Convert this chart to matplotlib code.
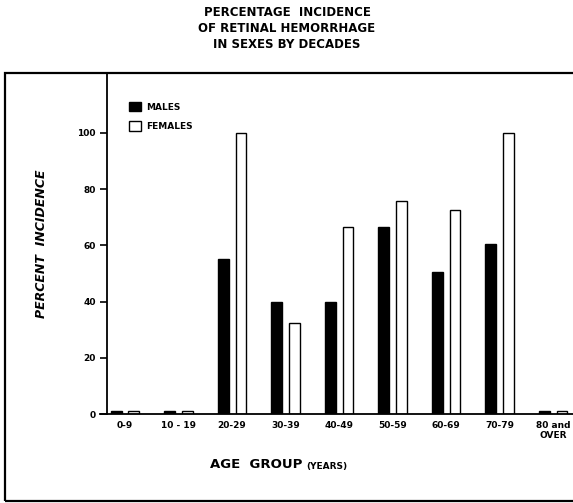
import matplotlib.pyplot as plt
from matplotlib.patches import Patch, Rectangle
import numpy as np

age_groups = ["0-9", "10 - 19", "20-29", "30-39", "40-49", "50-59",
              "60-69", "70-79", "80 and\nOVER"]
males = [1, 1, 55, 40, 40, 66.7, 50.5, 60.5, 1]
females = [1, 1, 100, 32.3, 66.7, 75.8, 72.7, 100, 1]
y_ticks = [0, 20, 40, 60, 80, 100]

W, H = 573, 503
fig = plt.figure(figsize=(W / 100, H / 100), dpi=100)
plt.rcParams['font.family'] = 'DejaVu Sans'

# axes placed in pixel terms of the reference
ax = fig.add_axes([107 / W, (H - 414) / H, (W - 107) / W, (414 - 73) / H])

x = np.arange(len(age_groups))
w = 0.2
ax.bar(x - 0.165, males, w, color='black', edgecolor='black', linewidth=1)
ax.bar(x + 0.165, females, w, color='white', edgecolor='black', linewidth=1)

ax.set_xlim(-0.336, 8.37)
ax.set_ylim(0, (414 - 73) / 2.81)

for s in ['top', 'right']:
    ax.spines[s].set_visible(False)
ax.spines['left'].set_linewidth(1.3)
ax.spines['bottom'].set_linewidth(1.3)
ax.spines['bottom'].set_bounds(-0.47, 8.37)
ax.spines['bottom'].set_clip_on(False)

ax.set_yticks(y_ticks)
ax.set_yticklabels([str(v) for v in y_ticks], fontsize=6.5, fontweight='bold')
ax.tick_params(axis='y', length=5, width=1.2, pad=3)
ax.set_xticks(x)
ax.set_xticklabels(age_groups, fontsize=6.5, fontweight='bold', linespacing=1.1,
                   va='top')
ax.tick_params(axis='x', length=0, pad=5)

ax.set_ylabel("PERCENT  INCIDENCE", fontsize=9, fontstyle='italic',
              fontweight='bold', labelpad=21)

handles = [Patch(facecolor='black', edgecolor='black', label='MALES'),
           Patch(facecolor='white', edgecolor='black', label='FEMALES')]
ax.legend(handles=handles, loc='upper left', bbox_to_anchor=(0.03, 0.94),
          frameon=False, handlelength=1.3, handleheight=1.3,
          prop={'size': 6.5, 'weight': 'bold'}, labelspacing=1.1,
          handletextpad=0.6)

# title
fig.text(287 / W, 1 - 6 / H,
         "PERCENTAGE  INCIDENCE\nOF RETINAL HEMORRHAGE\nIN SEXES BY DECADES",
         ha='center', va='top', fontsize=8.5, fontweight='bold',
         linespacing=1.3)

# x axis title
fig.text(302 / W, 1 - 465 / H, "AGE  GROUP", ha='right', va='center',
         fontsize=9.5, fontweight='bold')
fig.text(306 / W, 1 - 466 / H, "(YEARS)", ha='left', va='center',
         fontsize=6.5, fontweight='bold')

# outer frame
fig.patches.append(Rectangle((5 / W, 2 / H), 1.2, (H - 73 - 2) / H,
                             transform=fig.transFigure, fill=False,
                             edgecolor='black', linewidth=1.6))

fig.savefig("out.png", dpi=100)
